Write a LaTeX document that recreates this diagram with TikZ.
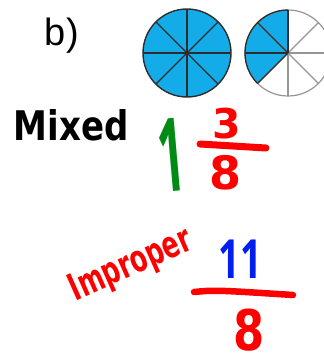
\documentclass[tikz,border=0pt]{standalone}
\usepackage{fontspec}
\usetikzlibrary{calc}
\setmainfont{Liberation Sans}
\newfontfamily\handfont{DejaVu Sans Bold}
\newfontfamily\onefont{Open Sans}
\definecolor{pieblue}{RGB}{20,172,232}
\definecolor{inkred}{RGB}{255,0,0}
\definecolor{inkgreen}{RGB}{0,140,20}
\definecolor{inkblue}{RGB}{0,30,240}
\definecolor{darkline}{RGB}{45,45,45}
\definecolor{lightline}{RGB}{150,150,150}
\tikzset{
  txt/.style={inner sep=0pt, outer sep=0pt},
  barline/.style={line width=7pt, line cap=round, draw=inkred},
}
\begin{document}
\begin{tikzpicture}[x=1pt,y=-1pt]
\useasboundingbox (0,0) rectangle (324,354);
\fill[white] (0,0) rectangle (324,354);
\begin{scope}
\clip (0,0) rectangle (324,354);
% left pie: all eighths shaded
\coordinate (c1) at (187,53);
\fill[pieblue] (c1) circle[radius=44];
\foreach \a in {0,45,...,135} {
  \draw[darkline, line width=1.3pt] ($(c1)+(\a:44)$) -- ($(c1)+(\a+180:44)$);
}
\draw[darkline, line width=1.4pt] (c1) circle[radius=44];
% right pie: 3 eighths shaded
\coordinate (c2) at (288,53);
\fill[pieblue] (c2) -- ++(0,-43) arc[start angle=270, end angle=135, radius=43] -- cycle;
\foreach \a in {0,45,...,135} {
  \draw[lightline, line width=1.3pt] ($(c2)+(\a:43)$) -- ($(c2)+(\a+180:43)$);
}
\draw[lightline, line width=1.2pt] (c2) circle[radius=43];
\draw[darkline, line width=1.3pt] (c2) -- ++(0,-43);
\draw[darkline, line width=1.3pt] (c2) -- ++(-43,0);
\draw[darkline, line width=1.3pt] (c2) -- ($(c2)+(-30.4,-30.4)$);
\draw[darkline, line width=1.3pt] (c2) -- ($(c2)+(-30.4,30.4)$);
\draw[darkline, line width=1.3pt] (c2) ++(0,-43) arc[start angle=270, end angle=135, radius=43];
\end{scope}
% label
\node[txt, anchor=base west, font=\fontsize{38}{40}\selectfont] (lab) at (45,45) {b)};
% mixed number
\node[txt, font=\handfont\fontsize{34}{36}\selectfont] (mixed) at (71,125) {\scalebox{1}[1.2]{Mixed}};
\node[txt, text=inkgreen, rotate=5, font=\onefont\bfseries\fontsize{102}{102}\selectfont] (one) at (171,155) {\scalebox{0.45}[1]{1}};
\node[txt, text=inkred, font=\handfont\fontsize{41}{42}\selectfont] (three) at (227,124) {3};
\coordinate (b1l) at (200,144);
\coordinate (b1r) at (266,148);
\draw[barline] (b1l) -- (b1r);
\node[txt, text=inkred, font=\handfont\fontsize{46}{46}\selectfont] (eightA) at (226,173) {8};
% improper fraction
\node[txt, text=inkred, rotate=24, font=\handfont\fontsize{25}{26}\selectfont] (improper) at (131,266) {\scalebox{1}[1.5]{Improper}};
\node[txt, text=inkblue, font=\onefont\bfseries\fontsize{54}{54}\selectfont] (eleven) at (240,259) {\scalebox{0.7}[1]{11}};
\coordinate (b2l) at (194,292);
\coordinate (b2m) at (215,290);
\coordinate (b2r) at (293,295);
\draw[barline, line width=6.5pt] (b2l) .. controls (b2m) .. (b2r);
\node[txt, text=inkred, font=\handfont\fontsize{56}{56}\selectfont] (eightB) at (249,330) {\scalebox{0.8}[1]{8}};
\end{tikzpicture}
\end{document}
